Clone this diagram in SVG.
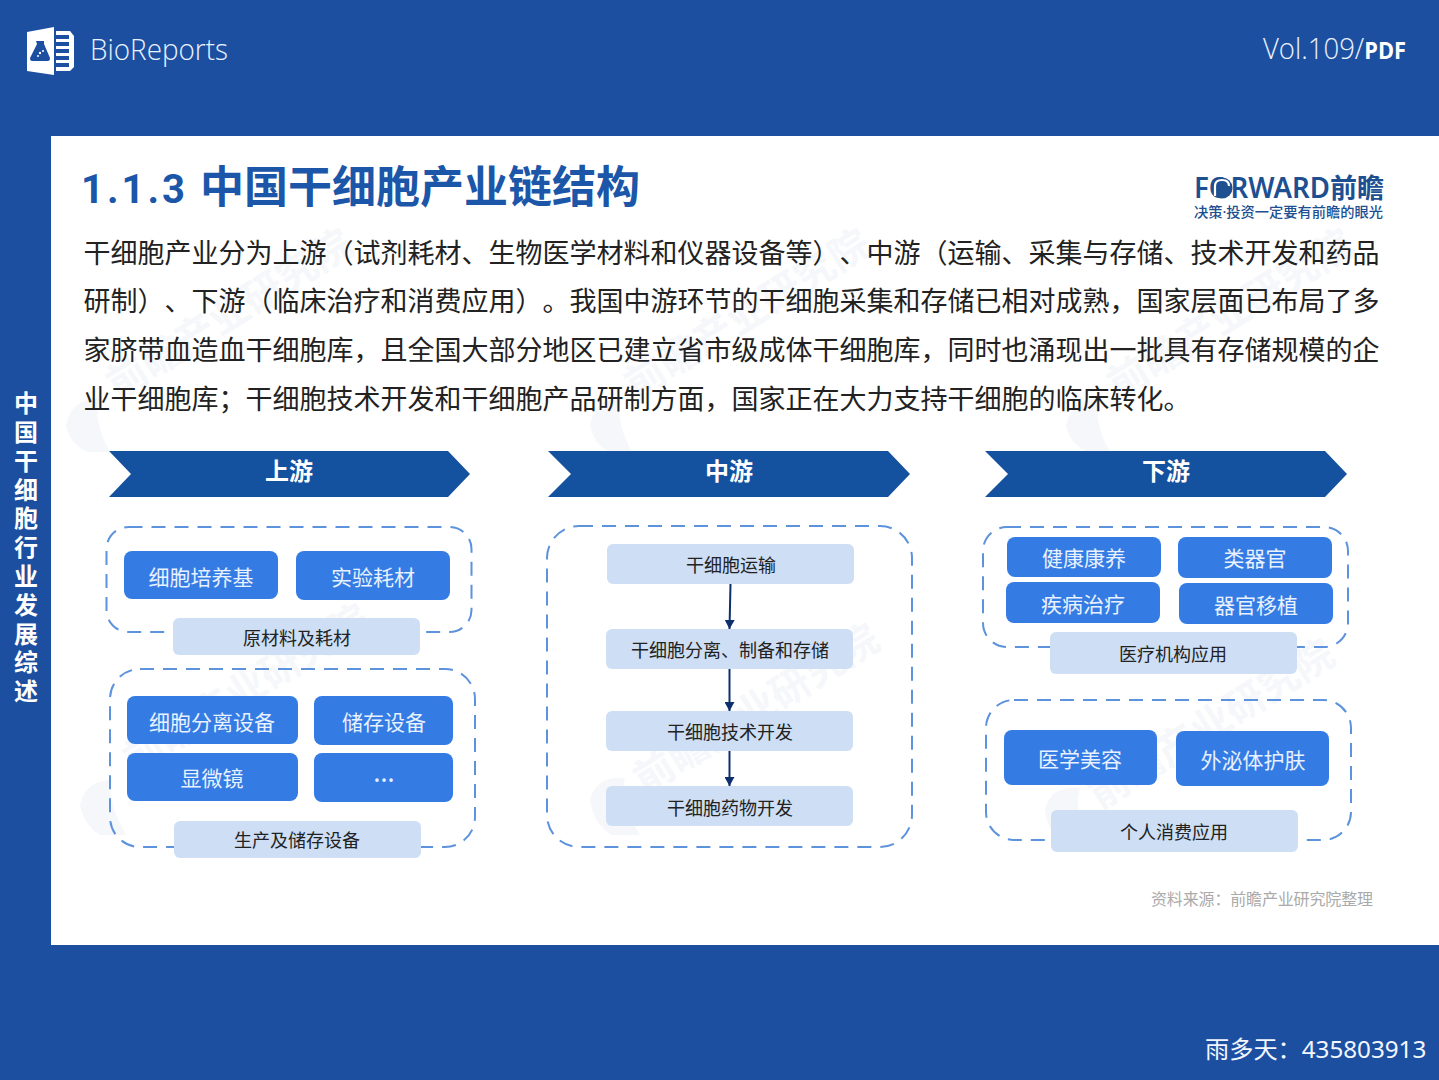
<svg xmlns="http://www.w3.org/2000/svg" width="1439" height="1080" viewBox="0 0 1439 1080">
<style>
text{font-family:"Noto Sans CJK SC","Noto Sans",sans-serif;text-spacing-trim:space-all}
.body{font-size:27px;fill:#222}
.dash{fill:none;stroke:#5d92dc;stroke-width:2;stroke-dasharray:14 9}
.dark{fill:#347ce4}
.light{fill:#cddef5}
.chev{fill:#14519f}
.dt{font-size:21px;fill:#e8f1ff;text-anchor:middle}
.lt{font-size:18px;fill:#222;text-anchor:middle}
.ct{font-size:24px;font-weight:700;fill:#fff;text-anchor:middle}
.side{font-size:24px;font-weight:700;fill:#fff;writing-mode:vertical-rl;letter-spacing:4.8px}
.wm{font-size:40px;font-weight:700;fill:#f6f7fa}
.wb{fill:#f5f7fa}
.conn{stroke:#0e2f6e;stroke-width:2;fill:none}
</style>
<defs>
<marker id="ah" markerUnits="userSpaceOnUse" markerWidth="10" markerHeight="10" refX="9" refY="5" orient="auto"><path d="M0 0L9 5L0 10Z" fill="#0e2f6e"/></marker>
</defs>
<rect width="1439" height="1080" fill="#1c4fa0"/>
<rect x="51" y="136" width="1388" height="809" fill="#fff"/>

<g id="watermarks">
<path class="wb" d="M66 425Q72 398 100 398Q92 420 110 452L88 452Q70 445 66 425Z"/>
<text class="wm" transform="translate(118 400) rotate(-32)">前瞻产业研究院</text>
<path class="wb" d="M590 425Q596 398 622 398Q614 420 632 452L610 452Q594 445 590 425Z"/>
<text class="wm" transform="translate(636 400) rotate(-32)">前瞻产业研究院</text>
<path class="wb" d="M1066 425Q1072 398 1100 398Q1092 420 1110 452L1088 452Q1070 445 1066 425Z"/>
<text class="wm" transform="translate(1119 400) rotate(-32)">前瞻产业研究院</text>
<path class="wb" d="M80 805Q86 780 112 780Q106 800 126 835L100 835Q84 825 80 805Z"/>
<text class="wm" transform="translate(135 775) rotate(-32)">前瞻产业研究院</text>
<path class="wb" d="M590 800Q596 775 625 778Q618 800 640 835L612 835Q594 825 590 800Z"/>
<text class="wm" transform="translate(645 795) rotate(-32)">前瞻产业研究院</text>
<path class="wb" d="M1045 810Q1050 785 1080 788Q1072 810 1094 845L1066 845Q1048 835 1045 810Z"/>
<text class="wm" transform="translate(1100 810) rotate(-32)">前瞻产业研究院</text>
</g>

<g id="brand">
<path d="M27 32L54 27V75L27 71Z" fill="#fff"/>
<path d="M56 31H70L74 36V67L70 71H56V67H69V63H56V60H69V56H56V53H69V49H56V46H69V42H56V39H69V35H56Z" fill="#fff"/>
<path d="M36 41H44V44L50 58Q50 61 48 61H32Q30 61 30 58L37 44Z" fill="#1c4fa0"/>
<circle cx="40" cy="53" r="1.200" fill="#fff"/><circle cx="43" cy="51" r="1" fill="#fff"/><circle cx="38" cy="56" r="1" fill="#fff"/>
<text x="90" y="60" font-size="29" fill="#e9f2ff" style="font-family:'Open Sans',sans-serif;font-weight:300" textLength="138" lengthAdjust="spacingAndGlyphs">BioReports</text>
<text x="1263" y="59" font-size="29" fill="#e9f2ff" style="font-family:'Open Sans',sans-serif;font-weight:300" textLength="143" lengthAdjust="spacingAndGlyphs">Vol.109/<tspan font-size="23" style="font-weight:700" fill="#fff">PDF</tspan></text>
<text x="1205" y="1058" font-size="24.200" fill="#f2f6ff">雨多天：<tspan style="font-family:'Noto Sans',sans-serif">435803913</tspan></text>
</g>

<g id="sidebar">
<text class="side" x="26" y="391">中国干细胞行业发展综述</text>
</g>

<g id="heading">
<text x="81" y="203" font-size="40" font-weight="700" fill="#1c56a8" style="font-family:Roboto,sans-serif" letter-spacing="3">1.1.3</text>
<text x="200" y="203" font-size="44" font-weight="700" fill="#1c56a8">中国干细胞产业链结构</text>
</g>

<g id="forward-logo">
<text x="1194" y="198" font-size="29" font-weight="600" fill="#1d4f91" style="font-family:'Noto Sans',sans-serif" textLength="136" lengthAdjust="spacingAndGlyphs">FORWARD</text>
<circle cx="1222" cy="188" r="10.500" fill="#1d4f91"/>
<path d="M1215 196V186Q1215 180 1222 180Q1229 180 1229 186" fill="none" stroke="#fff" stroke-width="2.200"/>
<text x="1330" y="198" font-size="27" font-weight="600" fill="#1d4f91">前瞻</text>
<text x="1194" y="217" font-size="14" font-weight="500" fill="#1d4f91" textLength="189" lengthAdjust="spacingAndGlyphs">决策<tspan style="font-family:'Noto Sans',sans-serif">·</tspan>投资一定要有前瞻的眼光</text>
</g>

<g id="intro">
<text class="body" x="83.500" y="263">干细胞产业分为上游（试剂耗材、生物医学材料和仪器设备等）、中游（运输、采集与存储、技术开发和药品</text>
<text class="body" x="83.500" y="311">研制）、下游（临床治疗和消费应用）。我国中游环节的干细胞采集和存储已相对成熟，国家层面已布局了多</text>
<text class="body" x="83.500" y="360">家脐带血造血干细胞库，且全国大部分地区已建立省市级成体干细胞库，同时也涌现出一批具有存储规模的企</text>
<text class="body" x="83.500" y="409">业干细胞库；干细胞技术开发和干细胞产品研制方面，国家正在大力支持干细胞的临床转化。</text>
</g>

<g id="up-head"><path class="chev" d="M109 451H448L470 474L448 497H109L131 474Z"/><text class="ct" x="289" y="480">上游</text></g>
<g id="mid-head"><path class="chev" d="M548 451H888L910 474L888 497H548L571 474Z"/><text class="ct" x="729" y="480">中游</text></g>
<g id="down-head"><path class="chev" d="M985 451H1325L1347 474L1325 497H985L1008 474Z"/><text class="ct" x="1166" y="480">下游</text></g>

<g id="up-materials">
<rect class="dash" x="106.500" y="527" width="365" height="105" rx="22"/>
<rect class="dark" x="124" y="551" width="154" height="48" rx="8"/><text class="dt" x="201" y="585">细胞培养基</text>
<rect class="dark" x="296" y="551" width="154" height="49" rx="8"/><text class="dt" x="373" y="585">实验耗材</text>
<rect class="light" x="173" y="618" width="247" height="37" rx="6"/><text class="lt" x="297" y="645">原材料及耗材</text>
</g>
<g id="up-equipment">
<rect class="dash" x="110" y="669" width="365" height="178" rx="30"/>
<rect class="dark" x="127" y="696" width="171" height="48" rx="8"/><text class="dt" x="212" y="730">细胞分离设备</text>
<rect class="dark" x="314" y="696" width="139" height="49" rx="8"/><text class="dt" x="384" y="730">储存设备</text>
<rect class="dark" x="127" y="753" width="171" height="48" rx="8"/><text class="dt" x="212" y="786">显微镜</text>
<rect class="dark" x="314" y="753" width="139" height="49" rx="8"/><text class="dt" x="384" y="782" style="font-family:'Noto Sans',sans-serif;font-size:27px">…</text>
<rect class="light" x="174" y="821" width="247" height="37" rx="6"/><text class="lt" x="297" y="847">生产及储存设备</text>
</g>

<g id="mid-chain">
<rect class="dash" x="547" y="526" width="365" height="321" rx="32"/>
</g>
<g id="connectors">
<line class="conn" x1="730.500" y1="584" x2="729.500" y2="629" marker-end="url(#ah)"/>
<line class="conn" x1="729.500" y1="669" x2="729.500" y2="711" marker-end="url(#ah)"/>
<line class="conn" x1="729.500" y1="751" x2="729.500" y2="786" marker-end="url(#ah)"/>
</g>
<g id="mid-1"><rect class="light" x="607" y="544" width="247" height="40" rx="6"/><text class="lt" x="731" y="572">干细胞运输</text></g>
<g id="mid-2"><rect class="light" x="606" y="629" width="247" height="40" rx="6"/><text class="lt" x="730" y="657">干细胞分离、制备和存储</text></g>
<g id="mid-3"><rect class="light" x="606" y="711" width="247" height="40" rx="6"/><text class="lt" x="730" y="739">干细胞技术开发</text></g>
<g id="mid-4"><rect class="light" x="606" y="786" width="247" height="40" rx="6"/><text class="lt" x="730" y="815">干细胞药物开发</text></g>

<g id="down-medical">
<rect class="dash" x="983" y="527" width="365" height="120" rx="24"/>
<rect class="dark" x="1007" y="537" width="154" height="40" rx="8"/><text class="dt" x="1084" y="566">健康康养</text>
<rect class="dark" x="1178" y="537" width="154" height="41" rx="8"/><text class="dt" x="1255" y="566">类器官</text>
<rect class="dark" x="1006" y="582" width="154" height="41" rx="8"/><text class="dt" x="1083" y="612">疾病治疗</text>
<rect class="dark" x="1179" y="583" width="154" height="41" rx="8"/><text class="dt" x="1256" y="613">器官移植</text>
<rect class="light" x="1050" y="632" width="247" height="42" rx="6"/><text class="lt" x="1173" y="661">医疗机构应用</text>
</g>
<g id="down-consumer">
<rect class="dash" x="986" y="700" width="365" height="140" rx="28"/>
<rect class="dark" x="1004" y="730" width="153" height="55" rx="8"/><text class="dt" x="1080" y="767">医学美容</text>
<rect class="dark" x="1176" y="731" width="153" height="55" rx="8"/><text class="dt" x="1253" y="768">外泌体护肤</text>
<rect class="light" x="1051" y="810" width="247" height="42" rx="6"/><text class="lt" x="1174" y="839">个人消费应用</text>
</g>

<text id="source" x="1151" y="905" font-size="16" fill="#aaaaaa" textLength="222">资料来源：前瞻产业研究院整理</text>
</svg>
